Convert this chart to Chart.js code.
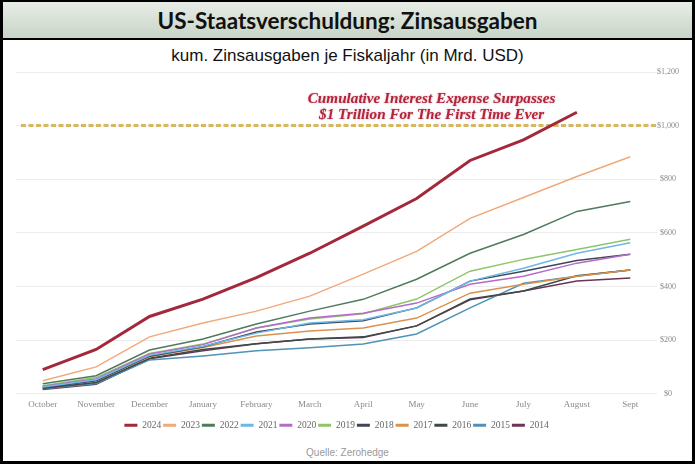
<!DOCTYPE html>
<html><head><meta charset="utf-8">
<script src="https://cdn.jsdelivr.net/npm/chart.js@4.4.1/dist/chart.umd.min.js"></script>
<style>
html,body{margin:0;padding:0;background:#fff;}
#frame{position:absolute;left:0;top:0;width:695px;height:464px;box-sizing:border-box;border:3px solid #000;border-top-width:2px;background:#fff;overflow:hidden}
#title{position:absolute;left:0;top:0;width:100%;height:36px;background:linear-gradient(#e7ede6,#c8d4c7);border-bottom:2px solid #000;font:700 22.5px Lato;text-align:center;line-height:37px;color:#111}
#sub{position:absolute;left:0;top:44px;width:100%;text-align:center;font:17px "Liberation Sans";line-height:19px;color:#111}
#foot{position:absolute;left:0;top:445px;width:100%;text-align:center;font:10px "Liberation Sans";line-height:12px;color:#9a9a9a}
#wrap{position:absolute;left:0;top:58px;width:689px;height:384px}
</style>
</head><body>
<div id="frame">
  <div id="title">US-Staatsverschuldung: Zinsausgaben</div>
  <div id="sub">kum. Zinsausgaben je Fiskaljahr (in Mrd. USD)</div>
  <div id="wrap"><canvas id="c"></canvas></div>
  <div id="foot">Quelle: Zerohedge</div>
</div>
<script>
const months = ["October","November","December","January","February","March","April","May","June","July","August","Sept"];
const years = ["2024","2023","2022","2021","2020","2019","2018","2017","2016","2015","2014"];
const fy2024 = [90, 165, 288, 353, 433, 524, 625, 728, 870, 947, 1050, null];
const fy2023 = [48, 100, 212, 264, 308, 364, 446, 531, 654, 732, 810, 884];
const fy2022 = [37, 67, 163, 204, 260, 308, 352, 427, 524, 594, 680, 717];
const fy2021 = [25, 52, 143, 177, 226, 264, 276, 320, 420, 468, 524, 563];
const fy2020 = [28, 55, 148, 183, 245, 282, 300, 338, 408, 438, 487, 520];
const fy2019 = [30, 60, 150, 185, 245, 279, 298, 353, 457, 501, 538, 576];
const fy2018 = [22, 48, 140, 175, 230, 260, 272, 320, 420, 457, 497, 520];
const fy2017 = [27, 50, 138, 172, 215, 234, 245, 282, 375, 408, 438, 461];
const fy2016 = [20, 42, 132, 165, 186, 204, 212, 253, 353, 383, 440, 461];
const fy2015 = [18, 38, 126, 141, 160, 171, 185, 223, 320, 412, 438, 461];
const fy2014 = [16, 35, 130, 160, 186, 204, 210, 253, 350, 383, 420, 432];
const yTicks = [0, 200, 400, 600, 800, 1000, 1200];
const threshold = 1000;
const annotationLines = ["Cumulative Interest Expense Surpasses", "$1 Trillion For The First Time Ever"];

const seriesValues = [fy2024, fy2023, fy2022, fy2021, fy2020, fy2019, fy2018, fy2017, fy2016, fy2015, fy2014];
const colors = ['#a3293a','#f2a97a','#4f7a5c','#6cb8e6','#b56cc9','#8fc56a','#3f4656','#d9924f','#3e4a48','#4f93b5','#6b3556'];

const datasets = years.map((y, i) => ({
  label: y,
  data: seriesValues[i],
  borderColor: colors[i],
  backgroundColor: colors[i],
  borderWidth: i === 0 ? 3 : 1.5,
  pointRadius: 0,
  tension: 0,
  fill: false
}));

const annot = {
  id: 'annot',
  beforeDatasetsDraw(chart) {
    const {ctx, chartArea, scales} = chart;
    const y = scales.y.getPixelForValue(threshold);
    ctx.save();
    ctx.strokeStyle = '#d6b862';
    ctx.lineWidth = 3;
    ctx.setLineDash([5, 2.5]);
    ctx.beginPath();
    ctx.moveTo(chartArea.left + 5, y);
    ctx.lineTo(chartArea.right - 1, y);
    ctx.stroke();
    ctx.restore();
  },
  afterDatasetsDraw(chart) {
    const {ctx, scales} = chart;
    const x7 = scales.x.getPixelForValue(7), x8 = scales.x.getPixelForValue(8);
    const cx = x7 + 0.28 * (x8 - x7);
    ctx.save();
    ctx.font = 'italic bold 15.2px "Liberation Serif"';
    ctx.textAlign = 'center';
    ctx.textBaseline = 'middle';
    ctx.fillStyle = '#b3253d';
    ctx.shadowColor = 'rgba(170,30,50,0.45)';
    ctx.shadowBlur = 2;
    ctx.fillText(annotationLines[0], cx, scales.y.getPixelForValue(1100));
    ctx.fillText(annotationLines[1], cx, scales.y.getPixelForValue(1038));
    ctx.restore();
  }
};

new Chart(document.getElementById('c'), {
  type: 'line',
  data: { labels: months, datasets },
  options: {
    responsive: true,
    maintainAspectRatio: false,
    animation: false,
    layout: { padding: { left: 13, top: 12, right: 0, bottom: 4 } },
    scales: {
      x: {
        offset: true,
        grid: { display: false, drawTicks: false },
        border: { display: false },
        ticks: { color: '#8a8a8a', font: { family: 'Liberation Serif', size: 9 }, padding: 6, maxRotation: 0, autoSkip: false },
        afterFit(s) { s.height += 2; }
      },
      y: {
        position: 'right',
        min: 0, max: 1200,
        afterBuildTicks(s) { s.ticks = yTicks.map(v => ({ value: v })); },
        grid: { color: '#ececec', lineWidth: 1, drawTicks: false },
        border: { display: false },
        ticks: {
          color: '#8a8a8a',
          font: { family: 'Liberation Serif', size: 8 },
          padding: 0,
          crossAlign: 'center',
          callback: v => '$' + v.toLocaleString('en-US')
        },
        afterFit(s) { s.width = 35; }
      }
    },
    plugins: {
      legend: {
        position: 'bottom',
        fullSize: false,
        labels: {
          boxWidth: 13, boxHeight: 3, padding: 2,
          color: '#666',
          font: { family: 'Liberation Serif', size: 9.5 },
          generateLabels(chart) {
            return chart.data.datasets.map((d, i) => ({
              text: d.label, fillStyle: d.borderColor, strokeStyle: d.borderColor,
              lineWidth: 0, hidden: false, datasetIndex: i, fontColor: '#666'
            }));
          }
        }
      },
      tooltip: { enabled: false },
      title: { display: false }
    }
  },
  plugins: [annot]
});
</script>
</body></html>
